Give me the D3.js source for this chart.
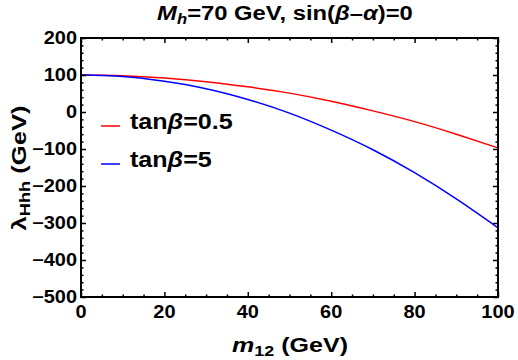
<!DOCTYPE html>
<html><head><meta charset="utf-8">
<script src="https://cdn.jsdelivr.net/npm/d3@7"></script>
<style>body{margin:0;background:#fff}svg{display:block}text{font-family:"Liberation Sans",Arial,sans-serif;font-weight:bold}</style>
</head><body><svg id="c" width="518" height="360"></svg>
<script>
const m12 = [0,10,20,30,40,50,60,70,80,90,100];
const tanb05 = [100,98,92,82,68,51,29,3,-26,-60,-97];
const tanb5 = [100,96,83,63,34,-3,-49,-102,-164,-235,-313];
const seriesNames = ["tan\u03B2=0.5","tan\u03B2=5"];
const seriesColors = ["#ff0000","#0000ff"];
const xTicks = [0,20,40,60,80,100];
const yTicks = [-500,-400,-300,-200,-100,0,100,200];

const svg = d3.select("#c");
const L=81,R=498,T=38,B=297;
const x = d3.scaleLinear().domain([0,100]).range([L,R]);
const y = d3.scaleLinear().domain([-500,200]).range([B,T]);
const fmt = d => d<0 ? "\u2212"+Math.abs(d) : String(d);

function stretch(node, k, ax){
  d3.select(node).attr("transform",`translate(${ax},0) scale(${k},1) translate(${-ax},0)`);
}

const line = d3.line().x(d=>x(d[0])).y(d=>y(d[1])).curve(d3.curveNatural);
[tanb05,tanb5].forEach((s,i)=>{
  svg.append("path").attr("d",line(m12.map((m,j)=>[m,s[j]])))
    .attr("fill","none").attr("stroke",seriesColors[i]).attr("stroke-width",1.5);
});

const g = svg.append("g");
function axis(gen, scale, ticks, minor, tx, ty){
  const a = gen(scale).tickValues(ticks).tickFormat("").tickSizeInner(-5).tickSizeOuter(0);
  g.append("g").attr("transform",`translate(${tx},${ty})`).call(a);
  const b = gen(scale).tickValues(minor).tickFormat("").tickSizeInner(-2.5).tickSizeOuter(0);
  g.append("g").attr("transform",`translate(${tx},${ty})`).call(b);
}
const xMinor = d3.range(0,101,5).filter(v=>v%20);
const yMinor = d3.range(-500,201,20).filter(v=>v%100);
axis(d3.axisBottom,x,xTicks,xMinor,0,B);
axis(d3.axisTop,x,xTicks,xMinor,0,T);
axis(d3.axisLeft,y,yTicks,yMinor,L,0);
axis(d3.axisRight,y,yTicks,yMinor,R,0);
g.selectAll(".domain").remove();
g.selectAll(".tick line").attr("stroke","#000").attr("stroke-width",1.5);
svg.append("rect").attr("x",L).attr("y",T).attr("width",R-L).attr("height",B-T)
  .attr("fill","none").attr("stroke","#000").attr("stroke-width",2);

svg.append("g").selectAll("text").data(xTicks).join("text")
  .attr("x",d=>x(d)).attr("y",318).attr("text-anchor","middle").attr("font-size",17.5).text(fmt)
  .each(function(d){stretch(this,1.14,x(d));});
svg.append("g").selectAll("text").data(yTicks).join("text")
  .attr("x",77).attr("y",d=>y(d)+6).attr("text-anchor","end").attr("font-size",17.5).text(fmt)
  .each(function(){stretch(this,1.14,77);});

const t = svg.append("text").attr("x",285).attr("y",20).attr("text-anchor","middle").attr("font-size",20);
t.append("tspan").attr("font-style","italic").text("M");
t.append("tspan").attr("font-style","italic").attr("font-size",14).attr("dy",4).text("h");
t.append("tspan").attr("dy",-4).text("=70 GeV, sin(");
t.append("tspan").attr("font-style","italic").text("\u03B2");
t.append("tspan").text("\u2013");
t.append("tspan").attr("font-style","italic").text("\u03B1");
t.append("tspan").text(")=0");
stretch(t.node(), 256/t.node().getBBox().width, 285);

const xl = svg.append("text").attr("x",290).attr("y",352).attr("text-anchor","middle").attr("font-size",21);
xl.append("tspan").attr("font-style","italic").text("m");
xl.append("tspan").attr("font-size",15).attr("dy",4).text("12");
xl.append("tspan").attr("dy",-4).text(" (GeV)");
stretch(xl.node(), 116/xl.node().getBBox().width, 290);

const yg = svg.append("g").attr("transform",`translate(26,168) rotate(-90)`);
const yl = yg.append("text").attr("x",0).attr("y",0).attr("text-anchor","middle").attr("font-size",21);
yl.append("tspan").text("\u03BB");
yl.append("tspan").attr("font-size",15).attr("dy",4).text("Hhh");
yl.append("tspan").attr("dy",-4).text(" (GeV)");
stretch(yl.node(), 125/yl.node().getBBox().width, 0);

seriesNames.forEach((n,i)=>{
  const yy = 126 + i*38;
  svg.append("line").attr("x1",101).attr("x2",120).attr("y1",yy).attr("y2",yy)
    .attr("stroke",seriesColors[i]).attr("stroke-width",1.5);
  const tx = svg.append("text").attr("x",130).attr("y",yy+3).attr("font-size",22);
  tx.append("tspan").text("tan");
  tx.append("tspan").attr("font-style","italic").text("\u03B2");
  tx.append("tspan").text(n.split("\u03B2")[1]);
  stretch(tx.node(),1.14,130);
});
</script></body></html>
